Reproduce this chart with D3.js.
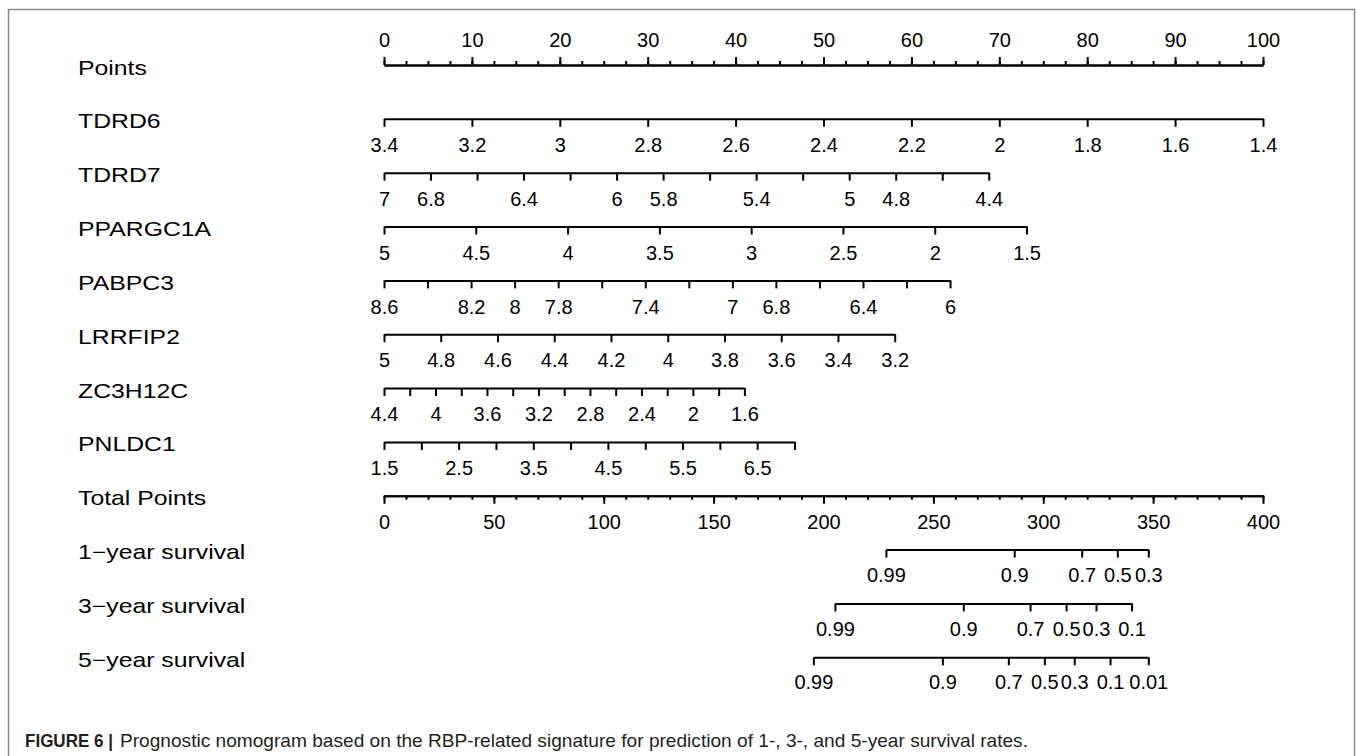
<!DOCTYPE html>
<html>
<head>
<meta charset="utf-8">
<script src="https://cdn.jsdelivr.net/npm/d3@7"></script>
<style>
  html, body { margin: 0; padding: 0; background: #fff; }
  svg text { font-family: "Liberation Sans", Arial, Helvetica, sans-serif; }
</style>
</head>
<body>
<div id="nomogram"></div>
<script>
// rows of the nomogram, top to bottom
var rowNames = ["Points", "TDRD6", "TDRD7", "PPARGC1A", "PABPC3", "LRRFIP2", "ZC3H12C", "PNLDC1",
    "Total Points", "1\u2212year survival", "3\u2212year survival", "5\u2212year survival"];

// points scale
var pointMajorTicks = [0, 10, 20, 30, 40, 50, 60, 70, 80, 90, 100];

// predictors: value at 0 points, value at the end of the line, points at the end of the line
var varNames = ["TDRD6", "TDRD7", "PPARGC1A", "PABPC3", "LRRFIP2", "ZC3H12C", "PNLDC1"];
var varValueAtZero = [3.4, 7, 5, 8.6, 5, 4.4, 1.5];
var varValueAtEnd = [1.4, 4.4, 1.5, 6, 3.2, 1.6, 7];
var varEndPoints = [100, 68.8, 73.1, 64.4, 58.1, 41.0, 46.7];
var varTicks = [
    [3.4, 3.2, 3, 2.8, 2.6, 2.4, 2.2, 2, 1.8, 1.6, 1.4],
    [7, 6.8, 6.6, 6.4, 6.2, 6, 5.8, 5.6, 5.4, 5.2, 5, 4.8, 4.6, 4.4],
    [5, 4.5, 4, 3.5, 3, 2.5, 2, 1.5],
    [8.6, 8.4, 8.2, 8, 7.8, 7.6, 7.4, 7.2, 7, 6.8, 6.6, 6.4, 6.2, 6],
    [5, 4.8, 4.6, 4.4, 4.2, 4, 3.8, 3.6, 3.4, 3.2],
    [4.4, 4.2, 4, 3.8, 3.6, 3.4, 3.2, 3, 2.8, 2.6, 2.4, 2.2, 2, 1.8, 1.6],
    [1.5, 2, 2.5, 3, 3.5, 4, 4.5, 5, 5.5, 6, 6.5, 7]
];
var varLabels = [
    [3.4, 3.2, 3, 2.8, 2.6, 2.4, 2.2, 2, 1.8, 1.6, 1.4],
    [7, 6.8, 6.4, 6, 5.8, 5.4, 5, 4.8, 4.4],
    [5, 4.5, 4, 3.5, 3, 2.5, 2, 1.5],
    [8.6, 8.2, 8, 7.8, 7.4, 7, 6.8, 6.4, 6],
    [5, 4.8, 4.6, 4.4, 4.2, 4, 3.8, 3.6, 3.4, 3.2],
    [4.4, 4, 3.6, 3.2, 2.8, 2.4, 2, 1.6],
    [1.5, 2.5, 3.5, 4.5, 5.5, 6.5]
];

// total points scale
var totalMajorTicks = [0, 50, 100, 150, 200, 250, 300, 350, 400];

// survival probabilities and the total points where they sit
var survNames = ["1\u2212year survival", "3\u2212year survival", "5\u2212year survival"];
var survProbs = [
    [0.99, 0.9, 0.7, 0.5, 0.3],
    [0.99, 0.9, 0.7, 0.5, 0.3, 0.1],
    [0.99, 0.9, 0.7, 0.5, 0.3, 0.1, 0.01]
];
var survTotalPoints = [
    [228.4, 286.8, 317.5, 333.7, 347.8],
    [205.2, 263.6, 294.0, 310.4, 324.0, 340.2],
    [195.4, 254.1, 284.1, 300.5, 314.1, 330.4, 347.8]
];

var captionBold = "FIGURE 6 |";
var captionText = "Prognostic nomogram based on the RBP-related signature for prediction of 1-, 3-, and 5-year survival rates.";

(function () {

    var width = 1357,
        height = 756;

    var svg = d3.select("#nomogram").append("svg")
        .attr("width", width)
        .attr("height", height);

    // frame round the figure
    svg.append("rect")
        .attr("x", 8.5)
        .attr("y", 9.5)
        .attr("width", 1346)
        .attr("height", 800)
        .attr("fill", "none")
        .attr("stroke", "#8a8a8a")
        .attr("stroke-width", 1.5);

    var x = d3.scaleLinear().domain([0, 100]).range([384, 1263]);
    var xTotal = d3.scaleLinear().domain([0, 400]).range([384, 1263]);
    var y = d3.scalePoint().domain(rowNames).range([65, 657.3]);

    var fontSize = "20px";

    function styleAxis(g) {
        g.selectAll("text")
            .attr("font-family", null)
            .style("font-size", fontSize)
            .style("fill", "#000");
        g.selectAll("path.domain").attr("stroke", "#000").attr("stroke-width", 2);
        g.selectAll("line").attr("stroke", "#000").attr("stroke-width", 2);
        g.attr("font-size", null).attr("font-family", null);
    }

    // row labels (the original text is stretched sideways)
    svg.selectAll(".rowLabel")
        .data(rowNames)
        .enter().append("text")
        .attr("class", "rowLabel")
        .attr("transform", function (d) {
            return "translate(78," + (y(d) + 9.5) + ") scale(1.24,1)";
        })
        .style("font-size", fontSize)
        .style("fill", "#000")
        .text(function (d) { return d; });

    // points axis on top, minor ticks then major ones
    svg.append("g")
        .attr("transform", "translate(0," + y("Points") + ")")
        .call(d3.axisTop(x).tickValues(d3.range(0, 100.01, 2.5)).tickSize(4).tickSizeOuter(0).tickFormat(""))
        .call(styleAxis);
    svg.append("g")
        .attr("transform", "translate(0," + y("Points") + ")")
        .call(d3.axisTop(x).tickValues(pointMajorTicks).tickSize(8).tickSizeOuter(0).tickPadding(10))
        .call(styleAxis);

    // one line for each predictor
    varNames.forEach(function (name, i) {
        var s = d3.scaleLinear()
            .domain([varValueAtZero[i], varValueAtEnd[i]])
            .range([x(0), x(varEndPoints[i])]);
        var labels = varLabels[i];
        svg.append("g")
            .attr("transform", "translate(0," + y(name) + ")")
            .call(d3.axisBottom(s)
                .tickValues(varTicks[i])
                .tickSize(8)
                .tickSizeOuter(0)
                .tickPadding(11)
                .tickFormat(function (d) {
                    return labels.indexOf(d) >= 0 ? String(d) : "";
                }))
            .call(styleAxis);
    });

    // total points
    svg.append("g")
        .attr("transform", "translate(0," + y("Total Points") + ")")
        .call(d3.axisBottom(xTotal).tickValues(d3.range(0, 400.01, 10)).tickSize(4).tickSizeOuter(0).tickFormat(""))
        .call(styleAxis);
    svg.append("g")
        .attr("transform", "translate(0," + y("Total Points") + ")")
        .call(d3.axisBottom(xTotal).tickValues(totalMajorTicks).tickSize(8).tickSizeOuter(0).tickPadding(11))
        .call(styleAxis);

    // survival lines
    survNames.forEach(function (name, i) {
        var s = d3.scaleLinear()
            .domain(survProbs[i])
            .range(survTotalPoints[i].map(function (p) { return xTotal(p); }));
        svg.append("g")
            .attr("transform", "translate(0," + y(name) + ")")
            .call(d3.axisBottom(s)
                .tickValues(survProbs[i])
                .tickSize(8)
                .tickSizeOuter(0)
                .tickPadding(10)
                .tickFormat(function (d) { return String(d); }))
            .call(styleAxis);
    });

    // caption
    svg.append("text")
        .attr("x", 25)
        .attr("y", 747)
        .attr("textLength", 88)
        .attr("lengthAdjust", "spacingAndGlyphs")
        .style("font-size", "19px")
        .style("font-weight", "bold")
        .style("fill", "#231f20")
        .text(captionBold);
    svg.append("text")
        .attr("x", 120)
        .attr("y", 747)
        .attr("textLength", 908)
        .attr("lengthAdjust", "spacingAndGlyphs")
        .style("font-size", "19px")
        .style("fill", "#231f20")
        .text(captionText);

})();
</script>
</body>
</html>
